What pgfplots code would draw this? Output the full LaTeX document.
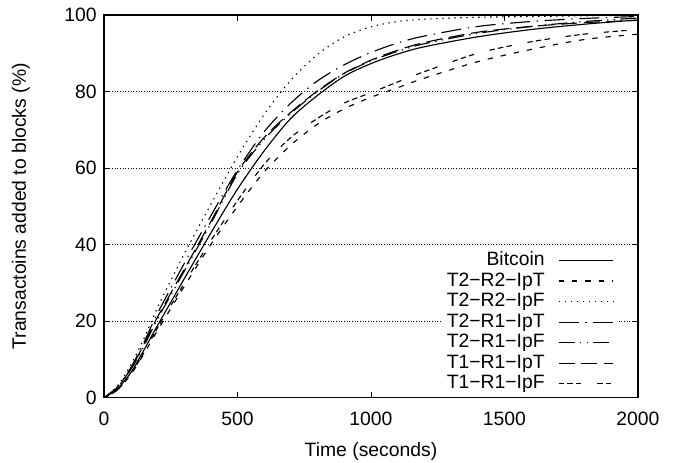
\documentclass[border=0pt]{standalone}
\usepackage{fontspec}
\setmainfont{Liberation Sans}
\usepackage{pgfplots}
\pgfplotsset{compat=1.18}

\begin{document}
\begin{tikzpicture}[font=\fontsize{14.5}{17}\selectfont]
\begin{axis}[
    scale only axis,
    width=400.5pt, height=287pt,
    xmin=0, xmax=2000,
    ymin=0, ymax=100,
    xtick={0,500,1000,1500,2000},
    ytick={0,20,40,60,80,100},
    /pgf/number format/assume math mode=true,
    /pgf/number format/1000 sep={},
    tick label style={font=\fontsize{14.5}{17}\selectfont},
    xticklabel style={yshift=-7pt},
    yticklabel style={xshift=-2pt},
    label style={font=\fontsize{14.5}{17}\selectfont},
    xlabel={Time (seconds)},
    ylabel={Transactoins added to blocks (\%)},
    xlabel style={yshift=-6pt},
    ylabel style={yshift=19pt},
    tick align=inside,
    major tick length=4.5pt,
    axis line style={line width=0.9pt},
    every tick/.style={black, line width=0.6pt},
    ymajorgrids,
    grid style={black, line width=0.45pt, dash pattern=on 0.5pt off 1.5pt},
    legend plot pos=right,
    legend cell align=right,
    legend style={at={(axis description cs:1,0)}, anchor=south east,
        xshift=-15pt, yshift=0.5pt, draw=none, fill=white, inner sep=3pt,
        row sep=1.9pt, column sep=10pt,
        nodes={inner sep=0pt, text height=10.5pt, text depth=3pt,
               font=\fontsize{14.5}{17}\selectfont}},
    legend image code/.code={\draw[#1] (0pt,0pt) -- (41pt,0pt);},
    every axis plot/.append style={black, line width=0.85pt, smooth},
]
% Bitcoin
\addplot[solid] coordinates {
(0,0)(50,2.3)(100,6.5)(150,12.5)(200,18.8)(300,31)(400,43)(500,54.5)(600,64.5)
(700,73)(800,79)(900,84)(1000,87.3)(1100,89.8)(1200,91.7)(1400,94.3)(1600,96.2)
(1800,97.6)(2000,98.7)};
% T2-R2-IpT
\addplot[dash pattern=on 4pt off 6pt] coordinates {
(0,0)(50,2)(100,6)(150,11.5)(200,17.5)(300,29)(400,40)(500,50)(600,59)
(700,66)(800,71.5)(900,75.5)(1000,78.5)(1100,81)(1200,83.5)(1400,87.8)(1600,91)
(1800,93.6)(2000,95)};
% T2-R2-IpF
\addplot[dash pattern=on 1pt off 3.5pt] coordinates {
(0,0)(50,3)(100,8.5)(150,15.5)(200,23.5)(300,37.5)(400,50.5)(500,63)(600,74)
(700,83)(800,89.7)(900,94.3)(1000,96.9)(1100,98.3)(1200,98.9)(1400,99.4)(1600,99.6)
(1800,99.8)(2000,99.9)};
% T2-R1-IpT
\addplot[dash pattern=on 15pt off 5pt on 1pt off 5pt] coordinates {
(0,0)(50,2.8)(100,7.8)(150,14.5)(200,22)(300,35)(400,47.5)(500,59.5)(600,69.5)
(700,77)(800,82.8)(900,87)(1000,90.2)(1100,92.7)(1200,94.5)(1400,97)(1600,98.3)
(1800,99.1)(2000,99.6)};
% T2-R1-IpF
\addplot[dash pattern=on 12pt off 4pt on 1pt off 4pt on 1pt off 4pt] coordinates {
(0,0)(50,2.6)(100,7.3)(150,13.5)(200,20.5)(300,33)(400,45.5)(500,58.5)(600,67.5)
(700,74.3)(800,80)(900,84.7)(1000,88)(1100,90.5)(1200,92.5)(1400,95.2)(1600,97)
(1800,98.3)(2000,99.2)};
% T1-R1-IpT
\addplot[dash pattern=on 12pt off 5pt] coordinates {
(0,0)(50,2.7)(100,7.5)(150,14)(200,21)(300,33.5)(400,46)(500,59)(600,68)
(700,74.6)(800,80.2)(900,84.8)(1000,88.2)(1100,90.8)(1200,92.8)(1400,95.5)(1600,97)
(1800,98)(2000,98.6)};
% T1-R1-IpF
\addplot[dash pattern=on 4pt off 2.5pt on 4pt off 2.5pt on 4pt off 12pt] coordinates {
(0,0)(50,2)(100,6.2)(150,11.8)(200,18.2)(300,29.8)(400,41)(500,51.5)(600,61)
(700,68)(800,73)(900,77)(1000,79.7)(1100,82.5)(1200,85.2)(1400,90)(1600,93)
(1800,95)(2000,96.2)};
\legend{Bitcoin, T2−R2−IpT, T2−R2−IpF, T2−R1−IpT, T2−R1−IpF, T1−R1−IpT, T1−R1−IpF}
\end{axis}
\pgfresetboundingbox
\useasboundingbox (-78pt,-48.75pt) rectangle (430.5pt,298.25pt);
\end{tikzpicture}
\end{document}
